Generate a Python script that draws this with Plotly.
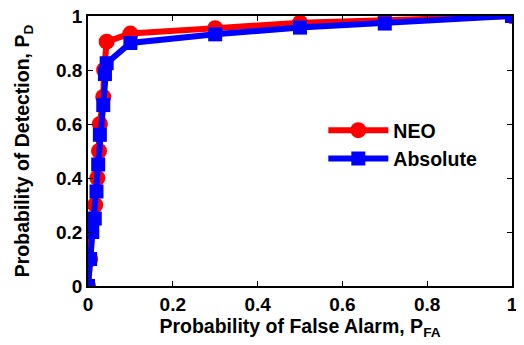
import plotly.graph_objects as go

neo_pfa = [0, 0.005, 0.006, 0.017, 0.022, 0.026, 0.028, 0.036, 0.038, 0.044, 0.1, 0.3, 0.5, 0.7, 1.0]
neo_pd = [0, 0.1, 0.2, 0.3, 0.4, 0.5, 0.6, 0.7, 0.8, 0.905, 0.935, 0.955, 0.975, 0.984, 1.0]

abs_pfa = [0, 0.005, 0.01, 0.016, 0.02, 0.024, 0.028, 0.036, 0.04, 0.044, 0.1, 0.3, 0.5, 0.7, 1.0]
abs_pd = [0, 0.1, 0.2, 0.25, 0.35, 0.45, 0.56, 0.67, 0.785, 0.825, 0.90, 0.932, 0.957, 0.972, 1.0]

tick_vals = [0, 0.2, 0.4, 0.6, 0.8, 1]
tick_text = ["0", "0.2", "0.4", "0.6", "0.8", "1"]

FONT = "Arial, Liberation Sans, sans-serif"
TICK = dict(family=FONT, size=19, color="black", weight="bold")
TEXT = dict(family=FONT, size=19.5, color="black", weight="bold")

fig = go.Figure()
fig.add_trace(go.Scatter(x=neo_pfa, y=neo_pd, name="NEO", mode="lines+markers",
                         line=dict(color="#ff0000", width=6),
                         marker=dict(symbol="circle", size=16, color="#ff0000")))
fig.add_trace(go.Scatter(x=abs_pfa, y=abs_pd, name="Absolute", mode="lines+markers",
                         line=dict(color="#0000ff", width=6),
                         marker=dict(symbol="square", size=14, color="#0000ff")))

axis_common = dict(
    tickvals=tick_vals, ticktext=tick_text, range=[0, 1], automargin=False,
    ticklabeloverflow="allow",
    showgrid=False, zeroline=False, showline=True, linecolor="black", linewidth=1.5,
    mirror="ticks", ticks="inside", ticklen=5, tickcolor="black", tickwidth=1,
    tickfont=TICK,
)

# page body has an 8px margin, so the figure is 8px smaller with 8px less left/top margin
fig.update_layout(
    width=516, height=337,
    margin=dict(l=80, r=12, t=8, b=59),
    paper_bgcolor="white", plot_bgcolor="white",
    showlegend=True,
    legend=dict(x=0.555, y=0.648, xanchor="left", yanchor="top",
                bgcolor="rgba(0,0,0,0)", itemwidth=60, tracegroupgap=0,
                font=TEXT),
    xaxis=dict(**axis_common,
               title=dict(text="Probability of False Alarm, P<sub>FA</sub>", standoff=4, font=TEXT)),
    yaxis=dict(**axis_common,
               title=dict(text="Probability of Detection, P<sub>D</sub>", standoff=21, font=TEXT)),
)

fig.write_html("out.html")
